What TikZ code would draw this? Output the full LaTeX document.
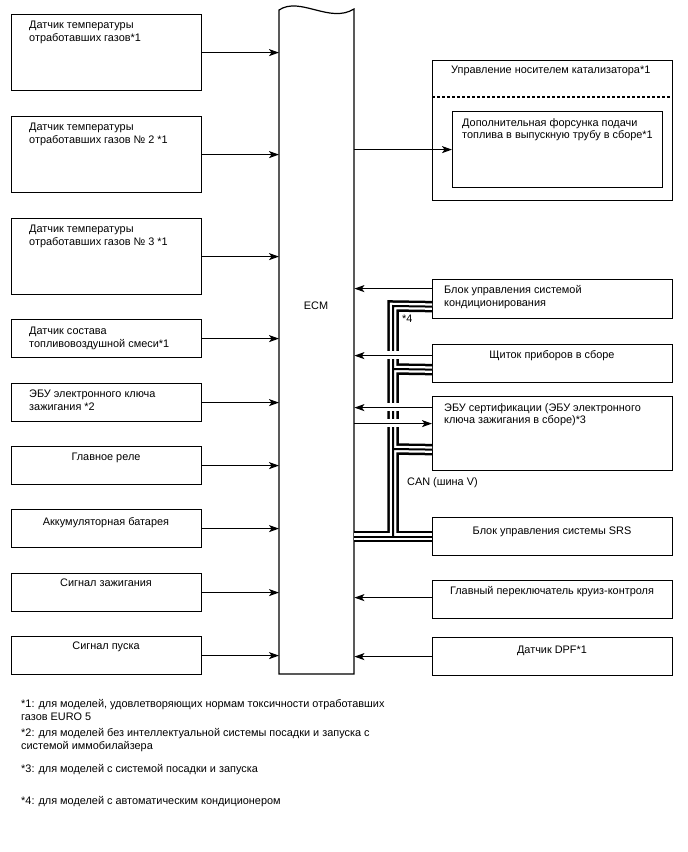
\documentclass[tikz,border=0pt]{standalone}
\usepackage{fontspec}
\setmainfont{Liberation Sans}
\usetikzlibrary{arrows.meta}
\begin{document}
\begin{tikzpicture}[x=1pt,y=-1pt,
  box/.style={draw, line width=1.2pt, anchor=north west, inner sep=0pt, minimum width=240pt},
  lbox/.style={draw, line width=1.2pt, anchor=north west, inner sep=0pt, minimum width=190pt},
  txt/.style={anchor=north west, inner sep=0pt, align=left, font=\fontsize{10.9}{12.8}\selectfont},
  ctxt/.style={anchor=north, inner sep=0pt, align=center, font=\fontsize{10.9}{12.8}\selectfont},
  arr/.style={line width=1.1pt, -{Stealth[length=10pt,width=7pt,inset=2.5pt]}},
  busA/.style={line width=11.5pt, black, line join=miter},
  busB/.style={line width=6.5pt, white, line join=miter},
  busC/.style={line width=2pt, black, line join=miter},
]
\useasboundingbox (0,0) rectangle (688,852);

% ECM
\node[anchor=north west, inner sep=0pt, minimum width=75pt, minimum height=664pt] (ecm) at (279,10) {};
\draw[line width=1.2pt] (279,10) .. controls (300,-4) and (330,24) .. (354,9) -- (354,674) -- (279,674) -- cycle;
\node[ctxt] (ecmt) at (316,302) {ECM};

% left boxes
\node[lbox, minimum height=76pt] (l1) at (11,14) {};
\node[lbox, minimum height=76pt] (l2) at (11,116) {};
\node[lbox, minimum height=76pt] (l3) at (11,218) {};
\node[lbox, minimum height=38pt] (l4) at (11,319) {};
\node[lbox, minimum height=38pt] (l5) at (11,383) {};
\node[lbox, minimum height=38pt] (l6) at (11,446) {};
\node[lbox, minimum height=38pt] (l7) at (11,509) {};
\node[lbox, minimum height=38pt] (l8) at (11,573) {};
\node[lbox, minimum height=38pt] (l9) at (11,636) {};

\node[txt] (t1) at (29,21) {Датчик температуры\\отработавших газов*1};
\node[txt] (t2) at (29,123) {Датчик температуры\\отработавших газов № 2 *1};
\node[txt] (t3) at (29,225) {Датчик температуры\\отработавших газов № 3 *1};
\node[txt] (t4) at (29,327) {Датчик состава\\топливовоздушной смеси*1};
\node[txt] (t5) at (29,390) {ЭБУ электронного ключа\\зажигания *2};
\node[ctxt] (t6) at (106,453) {Главное реле};
\node[ctxt] (t7) at (106,517) {Аккумуляторная батарея};
\node[ctxt] (t8) at (106,579) {Сигнал зажигания};
\node[ctxt] (t9) at (106,642) {Сигнал пуска};

\foreach \n in {l1,l2,l3,l4,l5,l6,l7,l8,l9}
  \draw[arr] (\n.east) -- (\n.east -| ecm.west);

% right boxes
\node[box, minimum height=140pt] (cat) at (432,60) {};
\draw[line width=1.2pt, dash pattern=on 3pt off 2pt] (cat.west |- 0,97) -- (cat.east |- 0,97);
\node[txt] (catt) at (451,66) {Управление носителем катализатора*1};
\node[lbox, minimum width=210pt, minimum height=76pt] (inj) at (452,111) {};
\node[txt] (injt) at (462,118) {Дополнительная форсунка подачи\\топлива в выпускную трубу в сборе*1};

\node[box, minimum height=39pt] (ac) at (432,279) {};
\node[txt] (act) at (444,285) {Блок управления системой\\кондиционирования};
\node[box, minimum height=38pt] (meter) at (432,344) {};
\node[ctxt] (metert) at (552,350) {Щиток приборов в сборе};
\node[box, minimum height=74pt] (cert) at (432,396) {};
\node[txt] (certt) at (444,403) {ЭБУ сертификации (ЭБУ электронного\\ключа зажигания в сборе)*3};
\node[box, minimum height=38pt] (srs) at (432,517) {};
\node[ctxt] (srst) at (552,527) {Блок управления системы SRS};
\node[box, minimum height=38pt] (cruise) at (432,580) {};
\node[ctxt] (cruiset) at (552,586) {Главный переключатель круиз-контроля};
\node[box, minimum height=38pt] (dpf) at (432,637) {};
\node[ctxt] (dpft) at (552,646) {Датчик DPF*1};

% CAN bus
\coordinate (bt) at (393,306);
\coordinate (bb) at (393,537);
\coordinate (b1) at (393,369);
\coordinate (b2) at (393,449);
\foreach \s in {busA,busB,busC}{
  \draw[\s] ([yshift=-7.5pt]ac.west) -- (bt) -- (bb);
  \draw[\s] (srs.west -| ecm.east) -- (srs.west);
  \draw[\s] (b1) -- ([yshift=-6pt]meter.west);
  \draw[\s] (b2) -- ([yshift=-16pt]cert.west);
}
\node[txt] (n4) at (402,315) {*4};
\node[txt] (can) at (407,477) {CAN (шина V)};

% gaps where signal lines cross the bus
\fill[white] (386,351) rectangle (400,359);
\fill[white] (386,403) rectangle (400,411);
\fill[white] (386,419) rectangle (400,427);

% right-side signal lines
\draw[arr] (ecm.east |- inj.west) -- (inj.west);
\draw[arr] ([yshift=10.5pt]ac.west) -- ([yshift=10.5pt]ac.west -| ecm.east);
\draw[arr] ([yshift=8pt]meter.west) -- ([yshift=8pt]meter.west -| ecm.east);
\draw[arr] ([yshift=26pt]cert.west) -- ([yshift=26pt]cert.west -| ecm.east);
\draw[arr] ([yshift=10pt]cert.west -| ecm.east) -- ([yshift=10pt]cert.west);
\draw[arr] ([yshift=2pt]cruise.west) -- ([yshift=2pt]cruise.west -| ecm.east);
\draw[arr] (dpf.west) -- (dpf.west -| ecm.east);

% footnotes
\node[txt] (f1) at (21,699) {*1: для моделей, удовлетворяющих нормам токсичности отработавших\\газов EURO 5};
\node[txt] (f2) at (21,728) {*2: для моделей без интеллектуальной системы посадки и запуска с\\системой иммобилайзера};
\node[txt] (f3) at (21,764) {*3: для моделей с системой посадки и запуска};
\node[txt] (f4) at (21,796) {*4: для моделей с автоматическим кондиционером};
\end{tikzpicture}
\end{document}
